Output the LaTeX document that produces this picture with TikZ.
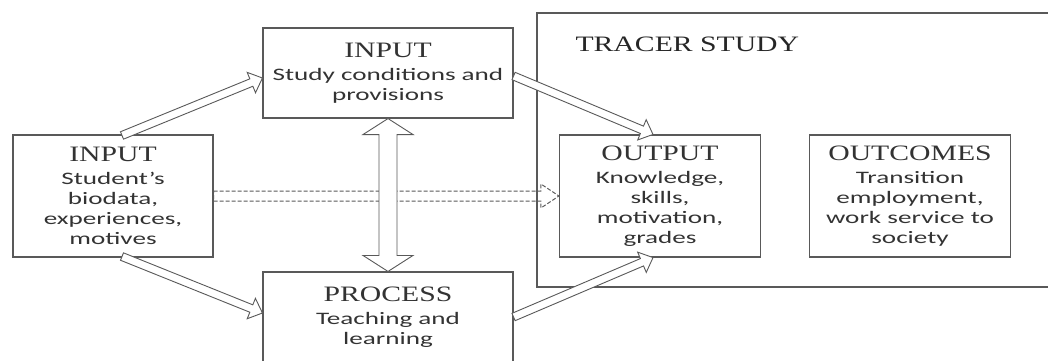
\documentclass[tikz,border=0pt]{standalone}
\usepackage{fontspec}
\usetikzlibrary{calc}
\newfontfamily\titlefont[FakeStretch=1.35]{Liberation Serif}
\newfontfamily\bodyfont[FakeStretch=1.55]{Carlito}
\newcommand{\ttl}[1]{{\titlefont\fontsize{22}{25}\selectfont #1}}
% hollow block arrow: [opts]{from}{to}{half shaft}{half head}{head length}
\newcommand{\blockarrow}[6][]{%
  \draw[hollow,#1] let \p1=(#2), \p2=(#3) in
    ($(\p1)!#4!90:(\p2)$) -- ($(\p2)!#6!(\p1)!#4!90:(\p2)$)
    -- ($(\p2)!#6!(\p1)!#5!90:(\p2)$) -- (\p2)
    -- ($(\p2)!#6!(\p1)!#5!-90:(\p2)$) -- ($(\p2)!#6!(\p1)!#4!-90:(\p2)$)
    -- ($(\p1)!#4!-90:(\p2)$) -- cycle;}
% same with a head at both ends
\newcommand{\blockarrows}[6][]{%
  \draw[hollow,#1] let \p1=(#2), \p2=(#3) in
    (\p1) -- ($(\p1)!#6!(\p2)!#5!90:(\p2)$) -- ($(\p1)!#6!(\p2)!#4!90:(\p2)$)
    -- ($(\p2)!#6!(\p1)!#4!90:(\p2)$) -- ($(\p2)!#6!(\p1)!#5!90:(\p2)$)
    -- (\p2) -- ($(\p2)!#6!(\p1)!#5!-90:(\p2)$) -- ($(\p2)!#6!(\p1)!#4!-90:(\p2)$)
    -- ($(\p1)!#6!(\p2)!#4!-90:(\p2)$) -- ($(\p1)!#6!(\p2)!#5!-90:(\p2)$) -- cycle;}

\begin{document}
\begin{tikzpicture}
  [x=1pt,y=-1pt,
   stage/.style={draw=black!65,line width=1.1pt,align=center,inner sep=0pt,
     font=\bodyfont\fontsize{17.5}{20}\selectfont,text=black!80},
   hollow/.style={draw=black!65,line width=0.9pt,fill=white,line join=miter}]
  \clip (0,0) rectangle (1048,360);
  \node[draw=black!65,line width=1.1pt,minimum width=520pt,minimum height=274pt] (tracer) at (797,150) {};
  \node[anchor=west,text=black!85] (tt) at (572,44) {\ttl{TRACER STUDY}};
  \node[stage,minimum width=200pt,minimum height=122pt] (in1) at (113,196)
    {\ttl{INPUT}\\[3pt] Student’s\\ biodata,\\ experiences,\\ motives};
  \node[stage,minimum width=250pt,minimum height=90pt] (in2) at (388,73)
    {\ttl{INPUT}\\[3pt] Study conditions and\\ provisions};
  \node[stage,minimum width=250pt,minimum height=90pt] (proc) at (388,317)
    {\ttl{PROCESS}\\[3pt] Teaching and\\ learning};
  \node[stage,minimum width=201pt,minimum height=122pt] (out) at (660,196)
    {\ttl{OUTPUT}\\[3pt] Knowledge,\\ skills,\\ motivation,\\ grades};
  \node[stage,minimum width=201pt,minimum height=122pt] (outc) at (910,196)
    {\ttl{OUTCOMES}\\[3pt] Transition\\ employment,\\ work service to\\ society};
  \blockarrow{[xshift=9pt,yshift=-1pt]in1.north}{[yshift=-5pt]in2.west}{4pt}{11pt}{12pt}
  \blockarrow{[xshift=9pt,yshift=1pt]in1.south}{[yshift=4pt]proc.west}{4pt}{11pt}{12pt}
  \blockarrow{[yshift=-3pt]in2.east}{[xshift=-7pt]out.north}{4pt}{11pt}{12pt}
  \blockarrow{proc.east}{[xshift=-7pt]out.south}{4pt}{11pt}{12pt}
  \blockarrow[dash pattern=on 4pt off 2pt,fill=none,line width=1pt]{in1.east}{out.west}{5pt}{12pt}{18pt}
  \blockarrows{in2.south}{proc.north}{9pt}{25pt}{16pt}
\end{tikzpicture}
\end{document}
